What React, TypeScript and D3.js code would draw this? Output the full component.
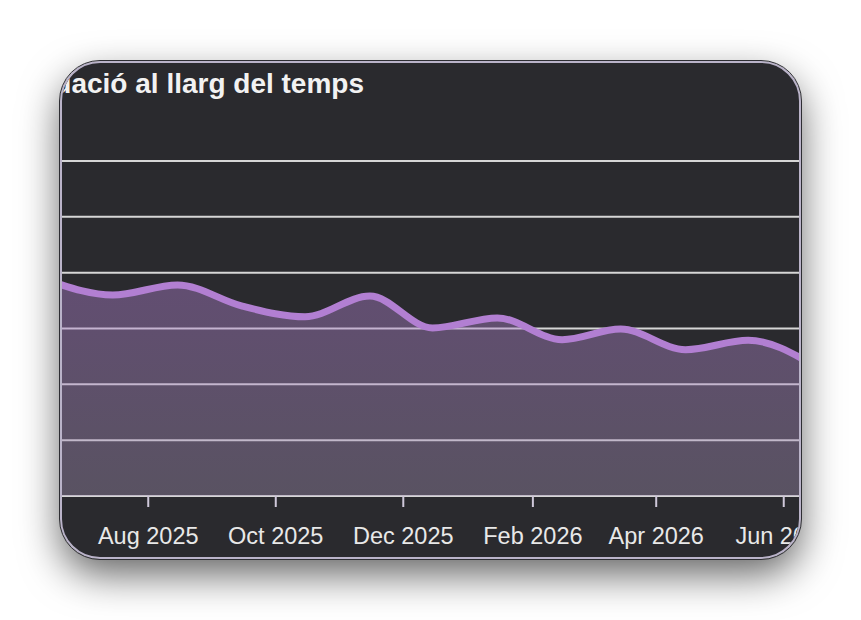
import React from 'react';
import * as d3 from 'd3';

// monthly score, sampled mid-month
const dates = [
  '2025-06-15', '2025-07-15', '2025-08-15', '2025-09-15', '2025-10-15', '2025-11-15', '2025-12-15',
  '2026-01-15', '2026-02-15', '2026-03-15', '2026-04-15', '2026-05-15', '2026-06-15'
];
const scores = [38.5, 36.0, 37.8, 34.0, 32.1, 35.8, 30.1, 31.9, 28.0, 29.9, 26.2, 27.9, 23.5];
const tickDates = ['2025-08-01', '2025-10-01', '2025-12-01', '2026-02-01', '2026-04-01', '2026-06-01'];
const gridValues = [0, 10, 20, 30, 40, 50, 60];
const title = 'Evolució de la puntuació al llarg del temps';

const width = 861;
const height = 620;
const card = { x: 61, y: 62, w: 739, h: 496, r: 39 };
const plot = { left: 50, right: 813, top: 161, bottom: 496 };

const App = () => {
  const parse = d3.utcParse('%Y-%m-%d');
  const data = dates.map((d, i) => ({ date: parse(d) as Date, value: scores[i] }));
  const ticks = tickDates.map(d => parse(d) as Date);

  const x = d3.scaleUtc()
    .domain([data[0].date, data[data.length - 1].date])
    .range([plot.left, plot.right]);

  const y = d3.scaleLinear()
    .domain([0, 60])
    .range([plot.bottom, plot.top]);

  const line = d3.line<{ date: Date; value: number }>()
    .x(d => x(d.date))
    .y(d => y(d.value))
    .curve(d3.curveMonotoneX);

  const area = d3.area<{ date: Date; value: number }>()
    .x(d => x(d.date))
    .y0(y(0))
    .y1(d => y(d.value))
    .curve(d3.curveMonotoneX);

  const fmt = d3.utcFormat('%b %Y');

  return (
    <svg width={width} height={height} style={{ position: 'absolute', left: 0, top: 0 }}>
      <defs>
        <filter id="cardShadow" x="-30%" y="-30%" width="160%" height="170%">
          <feDropShadow dx="0" dy="16" stdDeviation="20" floodColor="#000" floodOpacity="0.62" />
        </filter>
        <clipPath id="cardClip">
          <rect x={card.x + 1} y={card.y + 1} width={card.w - 2} height={card.h - 2} rx={card.r - 1} />
        </clipPath>
        <linearGradient id="areaFill" x1="0" y1="0" x2="0" y2="1">
          <stop offset="0%" stopColor="#b07fd0" stopOpacity={0.42} />
          <stop offset="100%" stopColor="#a08fb0" stopOpacity={0.4} />
        </linearGradient>
      </defs>

      <rect x={0} y={0} width={width} height={height} fill="#ffffff" />

      <rect x={card.x} y={card.y} width={card.w} height={card.h} rx={card.r}
        fill="#2a2b2e" filter="url(#cardShadow)" />

      <g clipPath="url(#cardClip)">
        <text x={364} y={93} textAnchor="end" fill="#f2f2f2"
          style={{ font: 'bold 28px "Liberation Sans", Arial, sans-serif' }}>{title}</text>

        <g className="grid">
          {gridValues.map(v => (
            <line key={v} x1={plot.left} x2={plot.right} y1={y(v)} y2={y(v)}
              stroke="#d6d6d6" strokeWidth={2} />
          ))}
        </g>

        <path d={area(data) ?? ''} fill="url(#areaFill)" />
        <path d={line(data) ?? ''} fill="none" stroke="#b27fd2" strokeWidth={7}
          strokeLinejoin="round" strokeLinecap="round" />

        <g className="x-axis">
          {ticks.map(t => (
            <g key={t.toISOString()} transform={`translate(${x(t)},${plot.bottom})`}>
              <line y1={0} y2={11} stroke="#cfc8da" strokeWidth={2} />
              <text y={48} textAnchor="middle" fill="#e8e8e8"
                style={{ font: '23.5px "Liberation Sans", Arial, sans-serif' }}>{fmt(t)}</text>
            </g>
          ))}
        </g>
      </g>

      <rect x={card.x} y={card.y} width={card.w} height={card.h} rx={card.r}
        fill="none" stroke="#bab3c9" strokeWidth={2} />
      <rect x={card.x - 1.5} y={card.y - 1.5} width={card.w + 3} height={card.h + 3} rx={card.r + 1.5}
        fill="none" stroke="#2e2e33" strokeWidth={1} />
    </svg>
  );
};

export default App;
